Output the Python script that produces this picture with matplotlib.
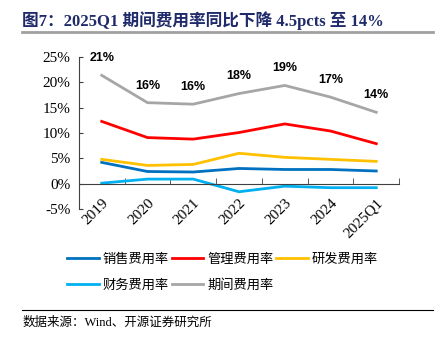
import matplotlib
matplotlib.use("Agg")
import matplotlib.pyplot as plt
from matplotlib.lines import Line2D

plt.rcParams['font.family'] = ['Liberation Serif', 'Noto Sans CJK SC', 'DejaVu Sans']

years = ['2019', '2020', '2021', '2022', '2023', '2024', '2025Q1']
sales = [4.2, 2.4, 2.3, 3.0, 2.8, 2.8, 2.5]
admin = [12.3, 9.1, 8.8, 10.1, 11.8, 10.4, 7.9]
rnd = [4.8, 3.6, 3.8, 6.0, 5.2, 4.8, 4.4]
finance = [0.1, 0.9, 0.9, -1.6, -0.5, -0.8, -0.8]
period = [21.4, 16.0, 15.7, 17.8, 19.4, 17.1, 14.1]
period_labels = ['21%', '16%', '16%', '18%', '19%', '17%', '14%']

names = ['销售费用率', '管理费用率', '研发费用率', '财务费用率', '期间费用率']
colors = ['#0070C0', '#FF0000', '#FFC000', '#00B0F0', '#A6A6A6']
series = [sales, admin, rnd, finance, period]

fig = plt.figure(figsize=(4.43, 3.42), dpi=100)
ax = fig.add_axes([0.178, 0.389, 0.723, 0.444])
ax.spines['top'].set_visible(False)
ax.spines['right'].set_visible(False)
ax.spines['bottom'].set_position(('data', 0))
ax.spines['bottom'].set_color('#404040')
ax.spines['left'].set_color('#404040')

x = list(range(len(years)))
for s, c in zip(series, colors):
    ax.plot(x, s, color=c, lw=2.0, solid_joinstyle='round')

for xi, v, lab in zip(x, period, period_labels):
    ax.annotate(lab, (xi, v), xytext=(0, 8), textcoords='offset points',
                ha='center', va='bottom', fontsize=9, fontweight='bold',
                family=['Liberation Sans', 'DejaVu Sans'])

ax.set_xlim(-0.5, 6.5)
ax.set_ylim(-5, 25)
ax.set_yticks([-5, 0, 5, 10, 15, 20, 25])
ax.set_yticklabels(['-5%', '0%', '5%', '10%', '15%', '20%', '25%'], fontsize=11)
ax.set_xticks(x)
ax.set_xticklabels(years, fontsize=11)
ax.set_xticks([i + 0.5 for i in x], minor=True)
ax.tick_params(axis='x', which='major', length=0, pad=9, labelrotation=45)
for t in ax.get_xticklabels():
    t.set_ha('right')
    t.set_rotation_mode('anchor')
ax.tick_params(axis='x', which='minor', length=4, direction='in', color='#404040')
ax.tick_params(axis='y', length=3, direction='in', color='#404040', pad=6)

# legend filled row by row: 销售 管理 研发 / 财务 期间
order = [0, 3, 1, 4, 2]
handles = [Line2D([], [], color=colors[i], lw=2.0) for i in order]
labels = [names[i] for i in order]
fig.legend(handles, labels, loc='upper left', bbox_to_anchor=(0.125, 0.295), ncol=3,
           frameon=False, handlelength=2.4, handletextpad=0.3,
           columnspacing=0.2, labelspacing=0.95,
           prop={'family': ['Noto Sans CJK SC'], 'size': 9.5})

fig.text(0.05, 0.94, '图7：2025Q1 期间费用率同比下降 4.5pcts 至 14%', fontsize=12,
         fontweight='bold', color='#1F2A6B', va='center',
         family=['Liberation Serif', 'Noto Sans CJK SC'])
fig.add_artist(Line2D([0.05, 0.978], [0.906, 0.906], color='#A0A0A0', lw=2))
fig.add_artist(Line2D([0.05, 0.978], [0.094, 0.094], color='black', lw=0.8))
fig.text(0.05, 0.055, '数据来源：Wind、开源证券研究所', fontsize=9, va='center',
         family=['Liberation Serif', 'Noto Sans CJK SC'])

fig.savefig('out.png', dpi=100)
